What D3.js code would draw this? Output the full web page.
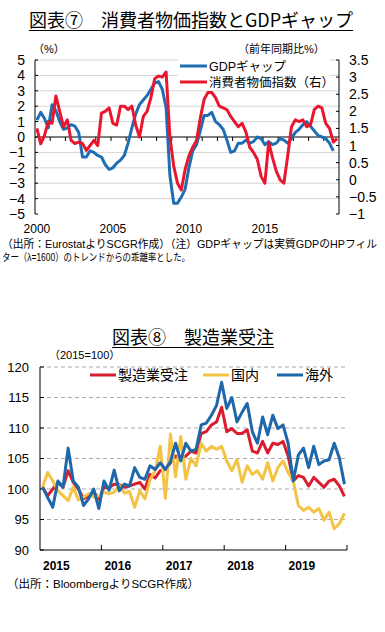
<!DOCTYPE html>
<html lang="ja">
<head>
<meta charset="utf-8">
<script src="https://cdn.jsdelivr.net/npm/d3@7"></script>
<style>
  body { margin: 0; background: #fff; }
  text { font-family: "Noto Sans CJK JP", sans-serif; fill: #000; }
  .num { font-family: "Liberation Sans", Arial, sans-serif; }
  .note { font-family: "Liberation Sans", "Noto Sans CJK JP", sans-serif; }
</style>
</head>
<body>
<div id="chart"></div>
<script>
// --- Chart 7 data: quarterly, 2000Q1 .. 2019Q4 ---
const quarters = d3.range(80); // 2000Q1 = 0
const yearLabels1 = ["2000", "2005", "2010", "2015"];
const leftTicks = [5, 4, 3, 2, 1, 0, -1, -2, -3, -4, -5];
const rightTicks = [3.5, 3, 2.5, 2, 1.5, 1, 0.5, 0, -0.5, -1];
const gdpGap = [
  1.1, 1.6, 1.2, 0.6, 2.1, 1.7, 1.0, 0.5, 0.6, 0.8,
  0.7, 0.3, -1.3, -1.3, -0.9, -1.0, -1.2, -1.3, -1.8, -2.1,
  -2.0, -1.7, -1.5, -1.2, -0.4, 0.6, 1.5, 2.1, 2.4, 2.7,
  3.1, 3.5, 3.6, 3.1, 1.9, -2.5, -4.3, -4.3, -3.9, -3.4,
  -2.0, -0.9, -0.5, 0.4, 1.4, 1.4, 1.6, 1.0, 0.8, 0.5,
  -0.2, -1.0, -0.9, -0.4, -0.4, -0.2, -0.4, -0.3, 0.0, -0.1,
  -0.5, -0.3, -0.5, -0.4, -0.1, -0.2, -0.4, -0.1, 0.3, 0.5,
  0.8, 1.0, 0.7, 0.4, 0.1, 0.0, -0.1, -0.4, -0.9
];
const cpi = [
  1.5, 1.05, 1.3, 1.7, 1.65, 2.45, 2.0, 1.55, 1.75, 1.15,
  1.06, 1.1, 1.06, 0.86, 1.0, 1.15, 1.0, 1.95, 2.0, 2.1,
  1.65, 1.6, 2.15, 2.15, 2.05, 2.15, 1.6, 1.25, 1.85, 2.0,
  2.4, 2.95, 3.03, 3.0, 3.15, 1.25, 0.4, -0.1, -0.3, 0.3,
  0.7, 0.95, 1.15, 1.8, 2.35, 2.55, 2.55, 2.4, 2.15, 2.1,
  2.05, 1.85, 1.7, 1.55, 1.65, 1.4, 0.95, 0.8, 0.6, 0.1,
  -0.1, 1.1, 0.65, 0.25, 0.0, -0.1, 0.7, 1.55, 1.75, 1.7,
  1.75, 1.55, 1.6, 2.05, 2.15, 2.1, 1.65, 1.5, 1.1, 1.2
];

// --- Chart 8 data: monthly, 2015-01 .. 2019-12 ---
const months = d3.range(60);
const yearLabels2 = ["2015", "2016", "2017", "2018", "2019"];
const ticks2 = [90, 95, 100, 105, 110, 115, 120];
const mfgOrders = [
  100.3, 98.9, 100.0, 101.1, 100.3, 103.0, 101.1, 100.0, 98.4, 98.9,
  99.5, 98.4, 100.3, 100.2, 100.8, 100.7, 100.3, 100.5, 100.8, 101.1,
  100.0, 102.4, 101.8, 103.0, 103.2, 104.3, 105.4, 104.8, 105.4, 106.2,
  105.9, 109.1, 109.4, 110.5, 111.0, 113.4, 109.4, 109.9, 109.1, 109.1,
  109.7, 106.2, 105.9, 107.8, 105.9, 107.5, 107.3, 107.8, 105.4, 101.3,
  102.2, 101.9, 100.5, 101.9, 101.1, 100.3, 101.3, 101.6, 100.5, 98.8
];
const domestic = [
  100.3, 102.7, 101.3, 99.7, 98.9, 98.1, 100.3, 98.2, 98.7, 99.2,
  98.7, 98.9, 99.5, 99.2, 99.5, 100.6, 99.3, 99.6, 97.0, 99.7,
  98.4, 101.5, 103.0, 107.0, 98.5, 109.0, 102.0, 108.6, 101.6, 105.0,
  103.8, 107.5, 106.2, 107.0, 106.5, 107.0, 104.6, 103.0, 104.8, 101.1,
  103.8, 102.4, 103.0, 101.6, 104.3, 101.3, 103.5, 104.6, 102.7, 101.3,
  97.3, 96.5, 97.0, 96.2, 96.8, 94.9, 96.2, 93.5, 94.3, 96.0
];
const overseas = [
  100.3, 98.6, 97.0, 101.3, 100.3, 106.7, 101.3, 100.3, 97.3, 98.4,
  100.0, 96.8, 101.3, 99.8, 103.1, 99.7, 100.8, 100.5, 103.5, 101.9,
  101.6, 103.8, 103.2, 104.3, 103.2, 104.5, 107.5, 104.6, 107.5, 106.2,
  106.5, 110.5, 110.8, 112.1, 113.7, 117.5, 113.2, 115.0, 111.0, 112.6,
  114.0, 109.4, 107.5, 111.8, 108.9, 112.1, 109.9, 110.5, 107.5, 101.3,
  105.6, 106.7, 103.5, 107.0, 104.0, 104.6, 104.8, 107.5, 105.1, 100.8
];

const BLUE = "#1f6db3", RED = "#e8172f";
const RED2 = "#d91c2e", YELLOW = "#f5c343", BLUE2 = "#1f67ab";

const svg = d3.select("#chart").append("svg")
  .attr("width", 385).attr("height", 632);
svg.append("rect").attr("width", 385).attr("height", 632).attr("fill", "#fff");

function title(txt, cx, y) {
  const t = svg.append("text").attr("x", cx).attr("y", y)
    .attr("text-anchor", "middle").attr("font-size", 18).text(txt);
  const w = t.node().getComputedTextLength();
  svg.append("line").attr("x1", cx - w / 2).attr("x2", cx + w / 2)
    .attr("y1", y + 3.5).attr("y2", y + 3.5).attr("stroke", "#000").attr("stroke-width", 1.2);
}

// ================= Chart 7 =================
title("図表⑦　消費者物価指数とGDPギャップ", 191, 27);

const x1 = d3.scaleBand().domain(quarters).range([35, 339]);
const yL = d3.scaleLinear().domain([-5, 5]).range([214, 60]);
const yR = d3.scaleLinear().domain([-1, 3.5]).range([214, 60]);
const cx1 = i => x1(i) + x1.bandwidth() / 2;

svg.append("text").attr("class", "note").attr("x", 33).attr("y", 53).attr("font-size", 11).text("（%）");
svg.append("text").attr("class", "note").attr("x", 238).attr("y", 53).attr("font-size", 11).text("（前年同期比%）");

// gridlines
svg.append("g").selectAll("line").data(leftTicks.filter(v => v !== 0 && v !== -5)).join("line")
  .attr("x1", 35).attr("x2", 339)
  .attr("y1", d => yL(d)).attr("y2", d => yL(d))
  .attr("stroke", "#d4d4d4").attr("stroke-width", 1);

// left axis
const gl = svg.append("g");
gl.append("line").attr("x1", 35).attr("x2", 35).attr("y1", 60).attr("y2", 214).attr("stroke", "#000");
gl.selectAll(".tk").data(leftTicks).join("line")
  .attr("x1", 35).attr("x2", 38).attr("y1", d => yL(d)).attr("y2", d => yL(d)).attr("stroke", "#000");
gl.selectAll("text").data(leftTicks).join("text").attr("class", "num")
  .attr("x", 25).attr("y", d => yL(d)).attr("dy", "0.36em")
  .attr("text-anchor", "end").attr("font-size", 14)
  .text(d => d < 0 ? "−" + Math.abs(d) : d);

// right axis
const gr = svg.append("g");
gr.append("line").attr("x1", 339).attr("x2", 339).attr("y1", 60).attr("y2", 214).attr("stroke", "#000");
gr.selectAll(".tk").data(rightTicks).join("line")
  .attr("x1", 336).attr("x2", 339).attr("y1", d => yR(d)).attr("y2", d => yR(d)).attr("stroke", "#000");
gr.selectAll("text").data(rightTicks).join("text").attr("class", "num")
  .attr("x", 349).attr("y", d => yR(d)).attr("dy", "0.36em")
  .attr("font-size", 14)
  .text(d => d < 0 ? "−" + Math.abs(d) : d);

// zero line with yearly ticks
svg.append("line").attr("x1", 35).attr("x2", 339).attr("y1", yL(0)).attr("y2", yL(0))
  .attr("stroke", "#000").attr("stroke-width", 1.2);
svg.append("g").selectAll("line").data(quarters.filter(q => q % 4 === 0 && q > 0)).join("line")
  .attr("x1", d => x1(d)).attr("x2", d => x1(d))
  .attr("y1", yL(0)).attr("y2", yL(0) + 4).attr("stroke", "#000");

// x labels
svg.append("g").selectAll("text").data(yearLabels1).join("text").attr("class", "num")
  .attr("x", (d, i) => cx1(i * 20)).attr("y", 233)
  .attr("text-anchor", "middle").attr("font-size", 12).text(d => d);

// lines
const lineL = d3.line().x((d, i) => cx1(i)).y(d => yL(d));
const lineR = d3.line().x((d, i) => cx1(i)).y(d => yR(d));
svg.append("path").datum(gdpGap).attr("d", lineL)
  .attr("fill", "none").attr("stroke", BLUE).attr("stroke-width", 3).attr("stroke-linejoin", "round");
svg.append("path").datum(cpi).attr("d", lineR)
  .attr("fill", "none").attr("stroke", RED).attr("stroke-width", 3).attr("stroke-linejoin", "round");

// legend
const lg1 = svg.append("g");
lg1.append("rect").attr("x", 178).attr("y", 58).attr("width", 152).attr("height", 32).attr("fill", "#fff");
[["GDPギャップ", BLUE, 66], ["消費者物価指数（右）", RED, 82]].forEach(([t, c, y]) => {
  lg1.append("line").attr("x1", 180).attr("x2", 207).attr("y1", y).attr("y2", y)
    .attr("stroke", c).attr("stroke-width", 3);
  lg1.append("text").attr("class", "note").attr("x", 209).attr("y", y).attr("dy", "0.36em")
    .attr("font-size", 12.5).text(t);
});

// footnote
svg.append("text").attr("class", "note").attr("x", 2).attr("y", 248).attr("font-size", 11)
  .attr("textLength", 375).attr("lengthAdjust", "spacingAndGlyphs")
  .text("（出所：EurostatよりSCGR作成）（注）GDPギャップは実質GDPのHPフィル");
svg.append("text").attr("class", "note").attr("x", 2).attr("y", 261).attr("font-size", 10.5)
  .attr("textLength", 188).attr("lengthAdjust", "spacingAndGlyphs")
  .text("ター（λ=1600）のトレンドからの乖離率とした。");

// ================= Chart 8 =================
title("図表⑧　製造業受注", 193, 344);
svg.append("text").attr("class", "note").attr("x", 49).attr("y", 359).attr("font-size", 11).text("（2015=100）");

const x2 = d3.scaleBand().domain(months).range([40, 347]);
const y2 = d3.scaleLinear().domain([90, 120]).range([550, 367]);
const cx2 = i => x2(i) + x2.bandwidth() / 2;

svg.append("g").selectAll("line").data(ticks2.filter(v => v > 90)).join("line")
  .attr("x1", 40).attr("x2", 347).attr("y1", d => y2(d)).attr("y2", d => y2(d))
  .attr("stroke", "#ababab").attr("stroke-dasharray", "4,3");

const ga = svg.append("g");
ga.append("line").attr("x1", 40).attr("x2", 40).attr("y1", 367).attr("y2", 550).attr("stroke", "#000");
ga.append("line").attr("x1", 40).attr("x2", 347).attr("y1", 550).attr("y2", 550).attr("stroke", "#000");
ga.selectAll(".ytk").data(ticks2).join("line")
  .attr("x1", 40).attr("x2", 44).attr("y1", d => y2(d)).attr("y2", d => y2(d)).attr("stroke", "#000");
ga.selectAll(".xtk").data([12, 24, 36, 48]).join("line")
  .attr("x1", d => x2(d)).attr("x2", d => x2(d)).attr("y1", 550).attr("y2", 545).attr("stroke", "#000");
ga.append("line").attr("x1", 347).attr("x2", 347).attr("y1", 550).attr("y2", 545).attr("stroke", "#000");
ga.selectAll(".ylab").data(ticks2).join("text").attr("class", "num")
  .attr("x", 29).attr("y", d => y2(d)).attr("dy", "0.36em")
  .attr("text-anchor", "end").attr("font-size", 13).text(d => d);
ga.selectAll(".xlab").data(yearLabels2).join("text").attr("class", "num")
  .attr("x", (d, i) => x2(i * 12) + 3).attr("y", 570)
  .attr("font-size", 12).attr("font-weight", "bold").text(d => d);

const line2 = d3.line().x((d, i) => cx2(i)).y(d => y2(d));
[[mfgOrders, RED2], [domestic, YELLOW], [overseas, BLUE2]].forEach(([data, c]) => {
  svg.append("path").datum(data).attr("d", line2)
    .attr("fill", "none").attr("stroke", c).attr("stroke-width", 3).attr("stroke-linejoin", "round");
});

// legend
[["製造業受注", RED2, 90], ["国内", YELLOW, 203], ["海外", BLUE2, 277]].forEach(([t, c, x]) => {
  svg.append("line").attr("x1", x).attr("x2", x + 26).attr("y1", 375).attr("y2", 375)
    .attr("stroke", c).attr("stroke-width", 3);
  svg.append("text").attr("class", "note").attr("x", x + 28).attr("y", 375).attr("dy", "0.36em")
    .attr("font-size", 14).text(t);
});

svg.append("text").attr("class", "note").attr("x", 7).attr("y", 588).attr("font-size", 11.5)
  .text("（出所：BloombergよりSCGR作成）");
</script>
</body>
</html>
